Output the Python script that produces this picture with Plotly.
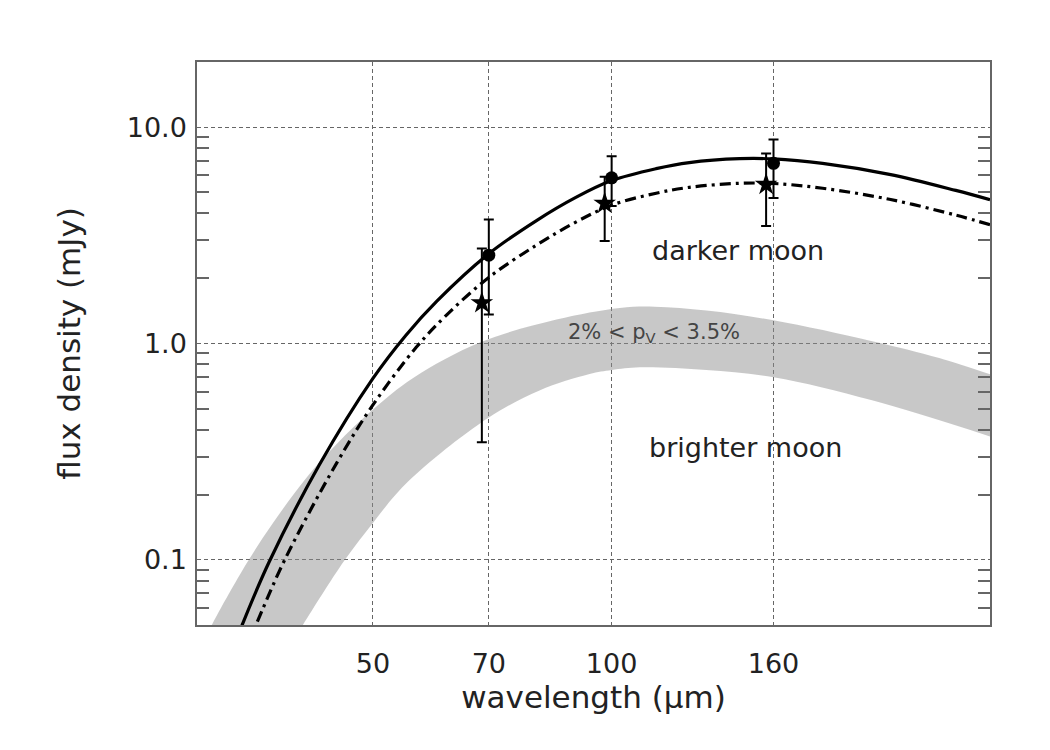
import numpy as np
import plotly.graph_objects as go

# ---------------- data ----------------
# model curve, darker moon (solid)
solid_wl = [33.5, 34.2, 37.0, 42.8, 50.0, 55.0, 60.2, 70.0, 80.4, 90.0, 100.0,
            113.8, 125.3, 145.0, 160.0, 184.5, 224.0, 271.6, 300.0]
solid_flux = [0.041, 0.05, 0.098, 0.275, 0.69, 1.09, 1.57, 2.60, 3.70, 4.72, 5.66,
              6.43, 6.86, 7.15, 7.13, 6.80, 6.05, 5.10, 4.62]

# model curve (dash-dot)
dd_wl = [34.8, 35.6, 38.7, 45.0, 50.0, 56.7, 62.0, 70.0, 80.4, 90.0, 100.0,
         113.8, 125.3, 145.0, 160.0, 184.5, 224.0, 271.6, 300.0]
dd_flux = [0.041, 0.05, 0.10, 0.28, 0.52, 0.96, 1.36, 2.02, 2.85, 3.63, 4.36,
           4.95, 5.27, 5.50, 5.49, 5.22, 4.64, 3.92, 3.54]

# grey band: 2% < pV < 3.5% (brighter moon)
band_up_wl = [30.4, 31.4, 35.6, 41.2, 45.1, 50.0, 56.2, 68.2, 85.2, 102.4, 113.3,
              131.7, 160.0, 213.1, 258.9, 300.0]
band_up_flux = [0.040, 0.051, 0.113, 0.239, 0.346, 0.495, 0.693, 1.01, 1.29, 1.46, 1.48,
                1.42, 1.28, 1.025, 0.857, 0.72]
band_lo_wl = [39.3, 40.8, 46.0, 50.0, 53.4, 57.9, 70.0, 81.1, 93.8, 100.0, 108.5,
              131.6, 160.0, 213.0, 300.0]
band_lo_flux = [0.040, 0.050, 0.099, 0.148, 0.200, 0.267, 0.455, 0.607, 0.723, 0.754, 0.776,
                0.754, 0.698, 0.546, 0.372]

# measurements (filled circles)
circ_wl = [70.0, 100.0, 160.0]
circ_flux = [2.56, 5.83, 6.80]
circ_err_plus = [1.18, 1.51, 1.97]
circ_err_minus = [1.20, 1.51, 2.09]

# measurements (stars)
star_wl = [68.6, 98.0, 156.6]
star_flux = [1.54, 4.44, 5.43]
star_err_plus = [1.21, 1.45, 2.13]
star_err_minus = [1.19, 1.46, 1.94]

# axes
x_range = [30, 300]
y_range = [0.05, 20]
x_tickvals = [50, 70, 100, 160]
x_ticktext = ["50", "70", "100", "160"]
y_tickvals = [0.1, 1, 10]
y_ticktext = ["0.1", "1.0", "10.0"]
y_minor_vals = [0.06, 0.07, 0.08, 0.09,
                0.2, 0.3, 0.4, 0.5, 0.6, 0.7, 0.8, 0.9,
                2, 3, 4, 5, 6, 7, 8, 9]

# ---------------- figure ----------------
FONT = "DejaVu Sans ExtraLight, DejaVu Sans"
INK = "#222222"
AXC = "#666666"

fig = go.Figure()

# band: lower edge (invisible) then upper edge filled down to it
fig.add_trace(go.Scatter(
    x=band_lo_wl, y=band_lo_flux, mode="lines",
    line=dict(width=0, color="rgba(0,0,0,0)", shape="spline", smoothing=1),
    hoverinfo="skip", showlegend=False))
fig.add_trace(go.Scatter(
    x=band_up_wl, y=band_up_flux, mode="lines", fill="tonexty",
    fillcolor="rgba(140,140,140,0.48)",
    line=dict(width=0, color="rgba(0,0,0,0)", shape="spline", smoothing=1),
    hoverinfo="skip", showlegend=False))

fig.add_trace(go.Scatter(
    x=dd_wl, y=dd_flux, mode="lines",
    line=dict(color="black", width=3.2, dash="11px,5px,3px,5px",
              shape="spline", smoothing=1),
    showlegend=False))

fig.add_trace(go.Scatter(
    x=solid_wl, y=solid_flux, mode="lines",
    line=dict(color="black", width=3.2, shape="spline", smoothing=1),
    showlegend=False))

fig.add_trace(go.Scatter(
    x=star_wl, y=star_flux, mode="markers",
    marker=dict(symbol="star", size=17, color="black"),
    error_y=dict(type="data", array=star_err_plus, arrayminus=star_err_minus,
                 color="black", thickness=2, width=5),
    showlegend=False))

fig.add_trace(go.Scatter(
    x=circ_wl, y=circ_flux, mode="markers",
    marker=dict(symbol="circle", size=13, color="black"),
    error_y=dict(type="data", array=circ_err_plus, arrayminus=circ_err_minus,
                 color="black", thickness=2, width=5),
    showlegend=False))

fig.update_layout(
    width=1050, height=750,
    margin=dict(l=197, r=60, t=62, b=125),
    paper_bgcolor="white", plot_bgcolor="white",
    font=dict(family=FONT, color=INK, size=27),
    xaxis=dict(
        type="log", range=[np.log10(x_range[0]), np.log10(x_range[1])],
        tickvals=x_tickvals, ticktext=x_ticktext, ticks="",
        tickfont=dict(family=FONT, size=27, color=INK),
        ticklabelstandoff=14,
        showgrid=True, gridcolor=AXC, gridwidth=1, griddash="4px,3px",
        showline=True, mirror=True, linecolor=AXC, linewidth=1.5,
        zeroline=False,
        title=dict(text="wavelength (μm)", font=dict(family=FONT, size=31, color=INK),
                   standoff=6),
    ),
    yaxis=dict(
        type="log", range=[np.log10(y_range[0]), np.log10(y_range[1])],
        tickvals=y_tickvals, ticktext=y_ticktext, ticks="",
        tickfont=dict(family=FONT, size=27, color=INK),
        ticklabelstandoff=3,
        showgrid=True, gridcolor=AXC, gridwidth=1, griddash="4px,3px",
        showline=True, mirror="ticks", linecolor=AXC, linewidth=1.5,
        zeroline=False,
        minor=dict(ticks="inside", ticklen=12, tickwidth=1.5, tickcolor=AXC,
                   tickvals=y_minor_vals, showgrid=False),
        title=dict(text="flux density (mJy)", font=dict(family=FONT, size=31, color=INK),
                   standoff=37),
    ),
)

fig.add_annotation(text="darker moon", xref="paper", yref="paper",
                   x=0.6817, y=0.6647, xanchor="center", yanchor="middle",
                   showarrow=False, font=dict(family=FONT, size=27, color=INK))
fig.add_annotation(text="brighter moon", xref="paper", yref="paper",
                   x=0.6918, y=0.3146, xanchor="center", yanchor="middle",
                   showarrow=False, font=dict(family=FONT, size=27, color=INK))
fig.add_annotation(text="2% &lt; p<sub>V</sub> &lt; 3.5%", xref="paper", yref="paper",
                   x=0.5765, y=0.5193, xanchor="center", yanchor="middle",
                   showarrow=False, font=dict(family=FONT, size=21, color="#444444"))

fig.write_html("out.html")
